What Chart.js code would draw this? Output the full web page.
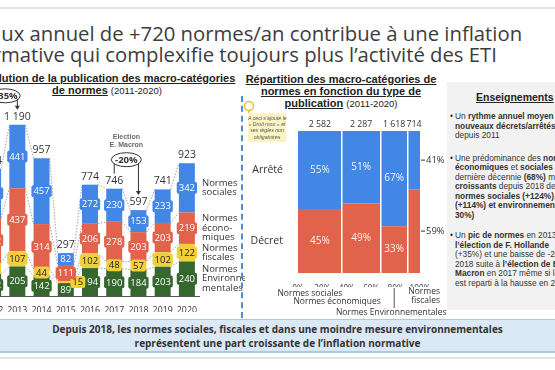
<!DOCTYPE html>
<html lang="fr">
<head>
<meta charset="utf-8">
<title>Inflation normative</title>
<script src="https://cdn.jsdelivr.net/npm/chart.js@4.4.1/dist/chart.umd.min.js"></script>
<style>
  html, body { margin: 0; padding: 0; }
  body { width: 555px; height: 370px; overflow: hidden; position: relative; background: #fff; font-family: 'Open Sans', sans-serif; color: #333; }
  .abs { position: absolute; white-space: nowrap; }
  .rule { left: 0; width: 555px; height: 2px; background: #dfe4ea; }
  .headline { font-size: 20.3px; line-height: 22px; color: #3c3c3c; }
  .ctitle { font-family: 'Liberation Sans', Arial, sans-serif; font-weight: bold; font-size: 11px; line-height: 12px; text-align: center; transform: translateX(-50%); color: #222; }
  .ctitle .yrs { font-weight: normal; font-size: 9.5px; }
  .dash { left: 241px; top: 96px; height: 222px; border-left: 2px dashed #4a8fdc; }
  .note { left: 248px; top: 113px; width: 38px; height: 29px; background: #fcf2c4; font-family: 'Liberation Sans', Arial, sans-serif; font-style: italic; font-size: 5.2px; line-height: 6.2px; text-align: center; color: #555; padding-top: 2px; box-sizing: border-box; }
  .panel { left: 447px; top: 82px; width: 120px; height: 228px; background: #f2f2f2; }
  .ptitle { left: 476px; top: 91px; font-family: 'Liberation Sans', Arial, sans-serif; font-weight: bold; font-size: 10.5px; line-height: 13px; text-decoration: underline; color: #222; }
  .para { left: 455px; font-family: 'Liberation Sans', Arial, sans-serif; font-size: 8.3px; line-height: 9.5px; color: #333; }
  .para::before { content: '•'; position: absolute; left: -5px; top: 0; }
  .banner { left: 0; top: 319px; width: 555px; height: 34px; background: #dbe8f5; border-top: 1.5px solid #a9c9e8; border-bottom: 2px solid #a9c9e8; box-sizing: border-box; text-align: center; font-weight: bold; font-size: 10px; line-height: 13.5px; color: #333; padding-top: 3px; }
  canvas { position: absolute; }
</style>
</head>
<body>
<div class="abs rule" style="top:7px"></div>
<div class="abs headline" data-cut="1" style="top:21.5px"><span class="cut">Le f</span>lux annuel de +720 normes/an contribue à une inflation</div>
<div class="abs headline" data-cut="1" style="top:43px"><span class="cut">nor</span>mative qui complexifie toujours plus l’activité des ETI</div>

<div class="abs ctitle" style="left:107px; top:72px"><u>Évolution de la publication des macro-catégories</u><br><u>de normes</u> <span class="yrs">(2011-2020)</span></div>
<div class="abs ctitle" style="left:341px; top:73px"><u>Répartition des macro-catégories de</u><br><u>normes en fonction du type de</u><br><u>publication</u> <span class="yrs">(2011-2020)</span></div>

<canvas id="leftChart" width="264" height="236" style="left:-19px; top:84px"></canvas>
<canvas id="rightChart" width="203" height="210" style="left:244px; top:110px"></canvas>

<div class="abs dash"></div>
<svg class="abs" style="left:242px; top:100px" width="14" height="16">
  <circle cx="7" cy="6" r="4.5" fill="none" stroke="#e6c233" stroke-width="1.5"/>
  <line x1="7" y1="10.5" x2="7" y2="14" stroke="#e6c233" stroke-width="1.5"/>
</svg>
<div class="abs note">A ceci s’ajoute le<br>« Droit mou » et<br>ses règles non<br>obligatoires</div>

<div class="abs panel"></div>
<div class="abs ptitle">Enseignements</div>
<div class="abs para" style="top:112.3px">Un <b>rythme annuel moyen de +720</b><br><b>nouveaux décrets/arrêtés</b><br>depuis 2011</div>
<div class="abs para" style="top:153.8px">Une prédominance des <b>normes</b><br><b>économiques</b> et <b>sociales</b> sur la<br>dernière décennie <b>(68%)</b> mais<br><b>croissants</b> depuis 2018 des<br><b>normes sociales (+124%)</b>, fiscales<br><b>(+114%) et environnementales (+</b><br><b>30%)</b></div>
<div class="abs para" style="top:231.3px">Un <b>pic de normes</b> en 2013 après<br><b>l’élection de F. Hollande</b><br>(+35%) et une baisse de -20% en<br>2018 suite à <b>l’élection de E.</b><br><b>Macron</b> en 2017 même si le flux<br>est reparti à la hausse en 2020</div>

<div class="abs banner">Depuis 2018, les normes sociales, fiscales et dans une moindre mesure environnementales<br>représentent une part croissante de l’inflation normative</div>
<div class="abs rule" style="top:357px"></div>

<script>
// left chart: number of norms published per year and macro-category
const years = ['2012', '2013', '2014', '2015', '2016', '2017', '2018', '2019', '2020'];
const envNorms = [152, 205, 142, 89, 194, 190, 184, 203, 240];
const fiscalNorms = [79, 107, 44, 15, 102, 48, 57, 102, 122];
const ecoNorms = [312, 437, 314, 111, 206, 278, 203, 203, 219];
const socialNorms = [341, 441, 457, 82, 272, 230, 153, 233, 342];
const seriesLines = [['Normes', 'Environne', 'mentales'], ['Normes', 'fiscales'], ['Normes', 'écono-', 'miques'], ['Normes', 'sociales']];

// right chart: split by publication type
const families = ['Normes sociales', 'Normes économiques', 'Normes Environnementales', 'Normes fiscales'];
const familyTotals = [2582, 2287, 1618, 714];
const decretPct = [45, 49, 33, 59];
const arretePct = [55, 51, 67, 41];
const pctTicks = [0, 20, 40, 60, 80, 100];

const BLUE = '#4287e5', RED = '#e2634b', YELLOW = '#f1cf3b', GREEN = '#35672f';
const FONT = "'Open Sans', sans-serif";

function fmt(n) {
    return String(n).replace(/\B(?=(\d{3})+(?!\d))/g, ' ');
}

// shift the cut-off headline so that the hidden prefix sits off screen
document.querySelectorAll('[data-cut]').forEach(el => {
    const cut = el.querySelector('.cut');
    el.style.left = (parseFloat(el.dataset.cut) - cut.offsetWidth) + 'px';
});

const totals = years.map((y, i) => envNorms[i] + fiscalNorms[i] + ecoNorms[i] + socialNorms[i]);

const callouts = [
    { from: '2012', to: '2013', text: '+35%' },
    { from: '2017', to: '2018', text: '-20%', note: ['Election', 'E. Macron'] }
];

// labels, dotted links and call-outs of the stacked bars
const stackDecor = {
    id: 'stackDecor',
    beforeDatasetsDraw(chart) {
        const ctx = chart.ctx;
        ctx.save();
        ctx.strokeStyle = '#8a8a8a';
        ctx.lineWidth = 0.8;
        ctx.setLineDash([1.5, 1.5]);
        chart.data.datasets.forEach((ds, d) => {
            const bars = chart.getDatasetMeta(d).data;
            for (let i = 0; i < bars.length - 1; i++) {
                const a = bars[i], b = bars[i + 1];
                ctx.beginPath();
                ctx.moveTo(a.x + a.width / 2, a.y);
                ctx.lineTo(b.x - b.width / 2, b.y);
                ctx.stroke();
            }
        });
        ctx.restore();
    },
    afterDatasetsDraw(chart) {
        const ctx = chart.ctx;
        const area = chart.chartArea;
        ctx.save();
        ctx.textAlign = 'center';
        ctx.textBaseline = 'middle';

        // value boxes
        ctx.font = '9.5px ' + FONT;
        chart.data.datasets.forEach((ds, d) => {
            chart.getDatasetMeta(d).data.forEach((bar, i) => {
                const t = String(ds.data[i]);
                let cx = bar.x;
                const cy = (bar.y + bar.base) / 2;
                if (bar.base - bar.y < 6) cx += bar.width / 2 + 4;
                const w = ctx.measureText(t).width + 4, h = 12;
                ctx.fillStyle = ds.backgroundColor;
                ctx.beginPath();
                ctx.roundRect(cx - w / 2, cy - h / 2, w, h, 2);
                ctx.fill();
                ctx.fillStyle = ds.textColor;
                ctx.fillText(t, cx, cy + 0.5);
            });
        });

        // totals
        const top = chart.getDatasetMeta(chart.data.datasets.length - 1).data;
        ctx.font = '10.5px ' + FONT;
        ctx.fillStyle = '#333';
        top.forEach((bar, i) => ctx.fillText(fmt(totals[i]), bar.x, bar.y - 8));

        // series names beside the last bar
        ctx.textAlign = 'left';
        ctx.font = '9.5px ' + FONT;
        const last = years.length - 1;
        chart.data.datasets.forEach((ds, d) => {
            const bar = chart.getDatasetMeta(d).data[last];
            const lines = seriesLines[d];
            const mid = (bar.y + bar.base) / 2;
            lines.forEach((l, k) => ctx.fillText(l, area.right + 3, mid + (k - (lines.length - 1) / 2) * 9.6));
        });

        // call-outs
        callouts.forEach(c => {
            const ia = years.indexOf(c.from), ib = years.indexOf(c.to);
            const xa = top[ia].x, xb = top[ib].x;
            const ya = top[ia].y - 8, yb = top[ib].y - 8;
            const cx = (xa + xb) / 2, cy = Math.min(ya, yb) - 21;
            const rx = 15, ry = 7;
            const dy = ry * Math.sqrt(Math.max(0, 1 - Math.pow((xb - cx) / rx, 2)));
            ctx.strokeStyle = '#333';
            ctx.lineWidth = 1;
            ctx.beginPath();
            ctx.ellipse(cx, cy, rx, ry, 0, 0, Math.PI * 2);
            ctx.stroke();
            ctx.beginPath();
            ctx.moveTo(xa, cy + dy);
            ctx.lineTo(xa, ya - 7);
            ctx.moveTo(xb, cy + dy);
            ctx.lineTo(xb, yb - 8);
            ctx.stroke();
            ctx.fillStyle = '#333';
            ctx.beginPath();
            ctx.moveTo(xb - 2.5, yb - 11);
            ctx.lineTo(xb + 2.5, yb - 11);
            ctx.lineTo(xb, yb - 7);
            ctx.closePath();
            ctx.fill();
            ctx.textAlign = 'center';
            ctx.font = 'bold 9.5px ' + FONT;
            ctx.fillText(c.text, cx, cy + 0.5);
            if (c.note) {
                ctx.font = "bold 7px 'Liberation Sans', Arial, sans-serif";
                ctx.fillStyle = '#6a6a6a';
                c.note.forEach((l, k) => ctx.fillText(l, cx, cy - 23 + k * 8));
            }
        });
        ctx.restore();
    }
};

new Chart(document.getElementById('leftChart'), {
    type: 'bar',
    data: {
        labels: years,
        datasets: [
            { label: 'Normes Environnementales', data: envNorms, backgroundColor: GREEN, textColor: '#fff' },
            { label: 'Normes fiscales', data: fiscalNorms, backgroundColor: YELLOW, textColor: '#222' },
            { label: 'Normes économiques', data: ecoNorms, backgroundColor: RED, textColor: '#fff' },
            { label: 'Normes sociales', data: socialNorms, backgroundColor: BLUE, textColor: '#fff' }
        ]
    },
    options: {
        responsive: false,
        animation: false,
        categoryPercentage: 1,
        barPercentage: 0.66,
        layout: { padding: { top: 25, right: 46, bottom: 8, left: 0 } },
        plugins: { legend: { display: false }, tooltip: { enabled: false } },
        scales: {
            x: {
                stacked: true,
                grid: { display: false },
                border: { color: '#555', width: 1 },
                ticks: { color: '#333', font: { family: FONT, size: 8.8 }, padding: 1, maxRotation: 0, autoSkip: false },
                afterFit: s => { s.height = 16; }
            },
            y: { stacked: true, display: false, min: 0, max: 1300 }
        }
    },
    plugins: [stackDecor]
});

// right chart: column edges follow each family's share of all norms
const grand = familyTotals.reduce((s, v) => s + v, 0);
const edges = [0];
familyTotals.forEach(v => edges.push(edges[edges.length - 1] + v / grand * 100));

const typeDatasets = [];
families.forEach((f, j) => {
    const common = { borderWidth: 0, pointRadius: 0, tension: 0 };
    typeDatasets.push(Object.assign({
        label: 'Décret – ' + f,
        data: [{ x: edges[j], y: decretPct[j] }, { x: edges[j + 1], y: decretPct[j] }],
        backgroundColor: RED, fill: 'origin'
    }, common));
    typeDatasets.push(Object.assign({
        label: 'Arrêté – ' + f,
        data: [{ x: edges[j], y: decretPct[j] + arretePct[j] }, { x: edges[j + 1], y: decretPct[j] + arretePct[j] }],
        backgroundColor: BLUE, fill: { value: decretPct[j] }
    }, common));
});

const mekkoDecor = {
    id: 'mekkoDecor',
    afterDatasetsDraw(chart) {
        const ctx = chart.ctx;
        const a = chart.chartArea;
        const x = chart.scales.x, y = chart.scales.y;
        const colMid = j => (x.getPixelForValue(edges[j]) + x.getPixelForValue(edges[j + 1])) / 2;
        ctx.save();
        ctx.textAlign = 'center';
        ctx.textBaseline = 'middle';

        families.forEach((f, j) => {
            const cx = colMid(j);
            const w = x.getPixelForValue(edges[j + 1]) - x.getPixelForValue(edges[j]);
            const yDec = y.getPixelForValue(decretPct[j] / 2);
            const yArr = y.getPixelForValue(decretPct[j] + arretePct[j] / 2);
            ctx.font = '8.8px ' + FONT;
            ctx.fillStyle = '#333';
            ctx.fillText(fmt(familyTotals[j]), cx, a.top - 7);
            if (w > 20) {
                ctx.font = '10px ' + FONT;
                ctx.fillStyle = 'rgba(255,255,255,0.92)';
                ctx.fillText(arretePct[j] + '%', cx, yArr);
                ctx.fillText(decretPct[j] + '%', cx, yDec);
            } else {
                ctx.font = '9.5px ' + FONT;
                ctx.fillStyle = '#333';
                ctx.strokeStyle = '#333';
                ctx.lineWidth = 1;
                ctx.textAlign = 'left';
                [[yArr, arretePct[j]], [yDec, decretPct[j]]].forEach(([yy, v]) => {
                    ctx.beginPath();
                    ctx.moveTo(a.right + 1, yy);
                    ctx.lineTo(a.right + 5, yy);
                    ctx.stroke();
                    ctx.fillText(v + '%', a.right + 6, yy);
                });
                ctx.textAlign = 'center';
            }
        });

        // staggered category names under the axis
        const b = a.bottom;
        ctx.font = '8.5px ' + FONT;
        ctx.fillStyle = '#333';
        ctx.fillText(families[0], colMid(0) - 10, b + 21);
        ctx.fillText(families[1], colMid(1) - 24, b + 29);
        ctx.fillText(families[2], colMid(2) - 3, b + 40);
        ctx.strokeStyle = '#555';
        ctx.lineWidth = 1;
        ctx.beginPath();
        ctx.moveTo(colMid(2), b + 15);
        ctx.lineTo(colMid(2), b + 35);
        ctx.stroke();
        ctx.textAlign = 'right';
        families[3].split(' ').forEach((l, k) => ctx.fillText(l, a.right + 20, b + 19 + k * 9));
        ctx.restore();
    }
};

new Chart(document.getElementById('rightChart'), {
    type: 'line',
    data: { datasets: typeDatasets },
    options: {
        responsive: false,
        animation: false,
        layout: { padding: { top: 21, right: 27, bottom: 33, left: 0 } },
        plugins: { legend: { display: false }, tooltip: { enabled: false } },
        scales: {
            x: {
                type: 'linear', min: 0, max: 100,
                grid: { display: false },
                border: { display: false },
                afterBuildTicks: s => { s.ticks = pctTicks.map(v => ({ value: v })); },
                ticks: { color: '#333', font: { family: FONT, size: 8.2 }, padding: 3, maxRotation: 0, autoSkip: false, callback: v => v + '%' },
                afterFit: s => { s.height = 14; }
            },
            sep: {
                axis: 'x', type: 'linear', position: 'top', min: 0, max: 100,
                afterBuildTicks: s => { s.ticks = edges.slice(1, -1).map(v => ({ value: v })); },
                grid: { color: '#ffffff', lineWidth: 1.5, z: 1, drawTicks: false },
                ticks: { display: false },
                border: { display: false }
            },
            y: {
                min: 0, max: 100,
                grid: { display: false },
                border: { display: false },
                afterBuildTicks: s => { s.ticks = [{ value: decretPct[0] / 2 }, { value: decretPct[0] + arretePct[0] / 2 }]; },
                ticks: { color: '#333', font: { family: FONT, size: 10.5 }, padding: 7, callback: (v, i) => (i === 0 ? 'Décret' : 'Arrêté') },
                afterFit: s => { s.width = 54; }
            }
        }
    },
    plugins: [mekkoDecor]
});
</script>
</body>
</html>
